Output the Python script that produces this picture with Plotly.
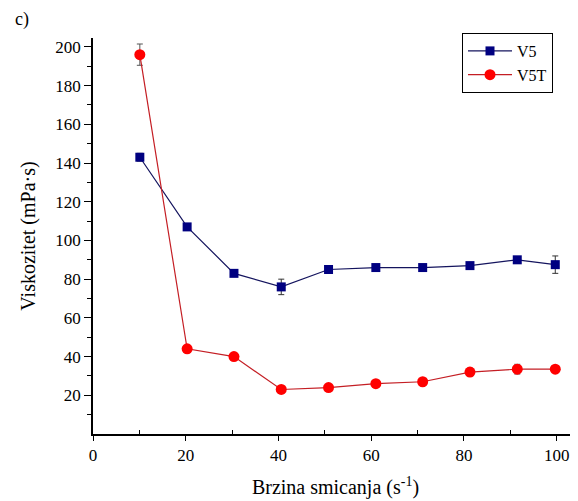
import plotly.graph_objects as go

shear_rate = [10.1, 20.3, 30.4, 40.6, 50.8, 61.0, 71.1, 81.3, 91.5, 99.7]
v5 = [143, 107, 83, 76, 85, 86, 86, 87, 90, 87.5]
v5_err = [2, 1, 1, 4, 1, 1, 1, 1, 1, 4.5]
v5t = [196, 44, 40, 23, 24, 26, 27, 32, 33.5, 33.5]
v5t_err = [5.5, 1, 1, 1, 1, 1, 1, 2, 2.5, 1]

x_ticks = [0, 20, 40, 60, 80, 100]
x_minor = [10, 30, 50, 70, 90]
y_ticks = [20, 40, 60, 80, 100, 120, 140, 160, 180, 200]
y_minor = [10, 30, 50, 70, 90, 110, 130, 150, 170, 190]

FONT = "Liberation Serif, Times New Roman, serif"

# page has an 8px body margin; figure is sized to fit the 578x501 window
OFF = 8
W, H = 578 - OFF, 501 - OFF
L, R, T, B = 93 - OFF, 0, 33 - OFF, 501 - 434
plot_h = H - T - B

fig = go.Figure()
fig.add_trace(go.Scatter(
    x=shear_rate, y=v5, name="V5", mode="lines+markers",
    line=dict(color="#14145e", width=1.2),
    marker=dict(symbol="square", size=9, color="#000080"),
    error_y=dict(type="data", array=v5_err, color="#333333", thickness=1, width=3),
))
fig.add_trace(go.Scatter(
    x=shear_rate, y=v5t, name="V5T", mode="lines+markers",
    line=dict(color="#c41e24", width=1.2),
    marker=dict(symbol="circle", size=11, color="#ff0000"),
    error_y=dict(type="data", array=v5t_err, color="#555555", thickness=1, width=3),
))

fig.update_layout(
    width=W, height=H,
    margin=dict(l=L, r=R, t=T, b=B, autoexpand=False),
    plot_bgcolor="white", paper_bgcolor="white",
    font=dict(family=FONT, size=17, color="black"),
    showlegend=True,
    legend=dict(x=(462 - 93) / (W - L), y=1.0, xanchor="left", yanchor="top",
                bordercolor="black", borderwidth=1, bgcolor="white",
                font=dict(family=FONT, size=16), tracegroupgap=0,
                itemwidth=44),
    annotations=[dict(text="c)", xref="paper", yref="paper",
                      x=(13 - 93) / (W - L), y=(434 - 20) / plot_h,
                      xanchor="left", yanchor="middle",
                      showarrow=False, font=dict(family=FONT, size=18))],
)

fig.update_xaxes(
    range=[0, 104.6], tickvals=x_ticks, automargin=False,
    showline=True, linecolor="black", linewidth=1.5, mirror=False,
    ticks="outside", ticklen=5, tickwidth=1.2, tickcolor="black",
    minor=dict(tickvals=x_minor, ticks="inside", ticklen=4, tickcolor="black", tickwidth=1),
    showgrid=False, zeroline=False,
    tickfont=dict(family=FONT, size=17),
    title=dict(text="Brzina smicanja (s<sup>-1</sup>)", font=dict(family=FONT, size=20), standoff=16),
)
fig.update_yaxes(
    range=[0, 204.6], tickvals=y_ticks, automargin=False,
    domain=[0, (434 - 38) / plot_h],
    showline=True, linecolor="black", linewidth=1.5, mirror=False,
    ticks="outside", ticklen=7, tickwidth=1.2, tickcolor="black",
    minor=dict(tickvals=y_minor, ticks="outside", ticklen=4, tickcolor="black", tickwidth=1),
    showgrid=False, zeroline=False,
    tickfont=dict(family=FONT, size=17),
    title=dict(text="Viskozitet (mPa·s)", font=dict(family=FONT, size=20), standoff=14),
)

fig.write_html("out.html")
